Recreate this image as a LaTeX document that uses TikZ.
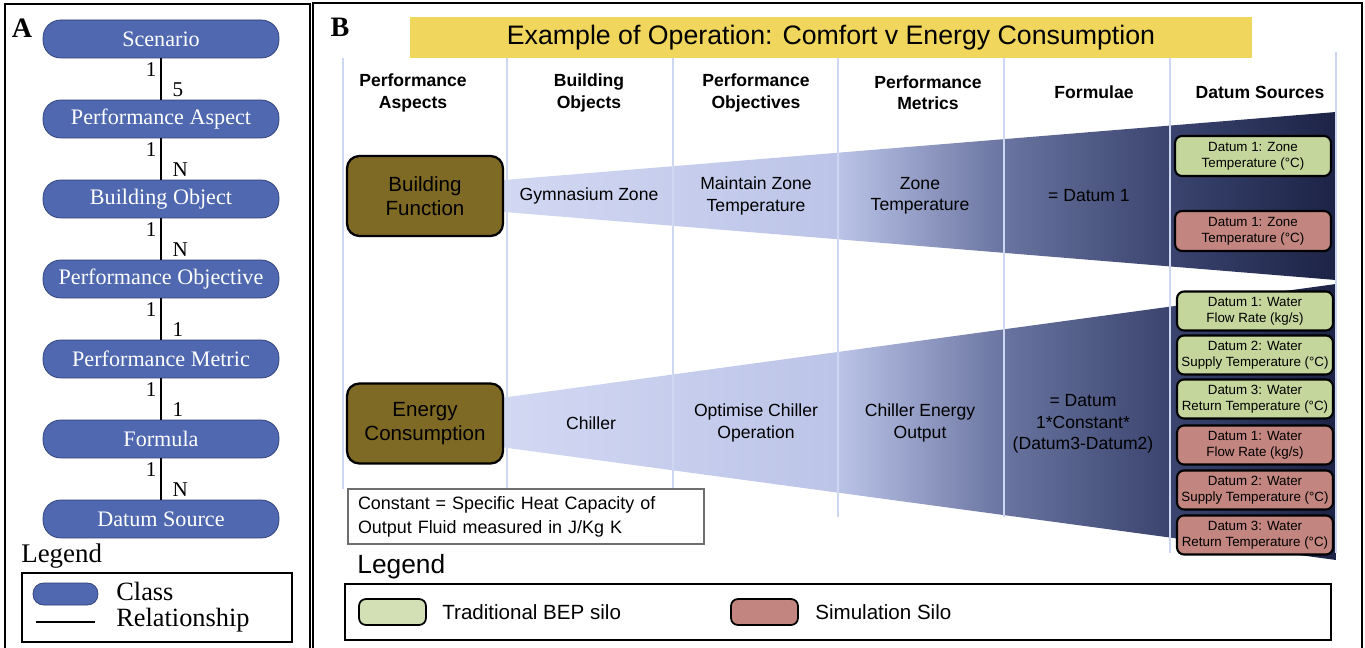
\documentclass[tikz,border=0pt]{standalone}
\usepackage{fontspec}
\setmainfont{Liberation Serif}
\setsansfont{Liberation Sans}
\usetikzlibrary{positioning, calc, backgrounds}
\definecolor{class_blue}{RGB}{80, 104, 176}
\definecolor{class_edge}{RGB}{45, 60, 115}
\definecolor{banner_yellow}{RGB}{240, 214, 92}
\definecolor{olive_brown}{RGB}{126, 105, 37}
\definecolor{bep_green}{RGB}{196, 214, 156}
\definecolor{sim_red}{RGB}{194, 133, 128}
\definecolor{grid_blue}{RGB}{205, 215, 242}
\definecolor{note_gray}{RGB}{110, 110, 110}
\definecolor{fanlight}{RGB}{210, 216, 242}
\definecolor{fanmid}{RGB}{188, 196, 232}
\definecolor{fandeep}{RGB}{105, 116, 160}
\definecolor{fannavy}{RGB}{58, 68, 110}
\definecolor{fandark}{RGB}{28, 35, 70}
\pgfdeclarehorizontalshading{fan}{100bp}{color(0bp)=(fanlight); color(25bp)=(fanlight); color(45bp)=(fanmid); color(55bp)=(fandeep); color(65bp)=(fannavy); color(75bp)=(fandark); color(100bp)=(fandark)}
\def \degC {(°C)}

\begin{document}
\begin{tikzpicture}[
    x=0.02cm, y=-0.02cm,
    % Node styles
    classnode/.style={
        rectangle,
        rounded corners=10pt,
        draw=class_edge,
        fill=class_blue,
        text=white,
        minimum width=4.72cm,
        minimum height=0.76cm,
        inner sep=0pt,
        font=\fontsize{12.6}{14}\selectfont
    },
    relation/.style={
        line width=1.1pt,
        black
    },
    cardinality/.style={
        inner sep=2pt,
        font=\fontsize{12}{14}\selectfont
    },
    aspectbox/.style={
        rectangle,
        rounded corners=7pt,
        draw=black,
        line width=1.3pt,
        fill=olive_brown,
        minimum width=3.12cm,
        minimum height=1.6cm,
        align=center,
        font=\sffamily\fontsize{11.7}{13.6}\selectfont
    },
    heading/.style={
        align=center,
        font=\sffamily\bfseries\fontsize{10}{12}\selectfont
    },
    entry/.style={
        align=center,
        font=\sffamily\fontsize{10}{12.2}\selectfont
    },
    datum/.style={
        rectangle,
        rounded corners=4pt,
        draw=black,
        line width=1.2pt,
        fill=#1,
        minimum width=3.12cm,
        minimum height=0.78cm,
        inner sep=0pt,
        align=center,
        font=\sffamily\fontsize{7.6}{9}\selectfont
    },
    swatch/.style={
        rectangle,
        rounded corners=4pt,
        draw=black,
        line width=1pt,
        fill=#1,
        minimum width=1.34cm,
        minimum height=0.52cm
    },
    gridline/.style={
        grid_blue,
        line width=0.6pt
    },
    panel/.style={
        line width=1.1pt,
        black
    }
]
\useasboundingbox (0,0) rectangle (1365,648);

% Panel frames
\draw[panel] (5,4) rectangle (310,670);
\draw[panel] (313,3) rectangle (1362,670);

% Panel A: class chain
\node[font=\fontsize{16}{18}\selectfont\bfseries] (tagA) at (22,28) {A};
\node[classnode] (scenario) at (161,39) {Scenario};
\node[classnode] (perfaspect) at (161,119) {Performance Aspect};
\node[classnode] (bldobject) at (161,199) {Building Object};
\node[classnode] (perfobjective) at (161,279) {Performance Objective};
\node[classnode] (perfmetric) at (161,359) {Performance Metric};
\node[classnode] (formula) at (161,439) {Formula};
\node[classnode] (datumsource) at (161,519) {Datum Source};

\draw[relation] (scenario) -- node[cardinality, pos=0.28, left] {1} node[cardinality, pos=0.76, right=4pt] {5} (perfaspect);
\draw[relation] (perfaspect) -- node[cardinality, pos=0.28, left] {1} node[cardinality, pos=0.76, right=4pt] {N} (bldobject);
\draw[relation] (bldobject) -- node[cardinality, pos=0.28, left] {1} node[cardinality, pos=0.76, right=4pt] {N} (perfobjective);
\draw[relation] (perfobjective) -- node[cardinality, pos=0.28, left] {1} node[cardinality, pos=0.76, right=4pt] {1} (perfmetric);
\draw[relation] (perfmetric) -- node[cardinality, pos=0.28, left] {1} node[cardinality, pos=0.76, right=4pt] {1} (formula);
\draw[relation] (formula) -- node[cardinality, pos=0.28, left] {1} node[cardinality, pos=0.76, right=4pt] {N} (datumsource);

% Panel A: legend
\node[anchor=west, inner sep=0pt, font=\fontsize{15.3}{17}\selectfont] (legendA) at (21,556) {Legend};
\draw[line width=1.5pt] (22,573) rectangle (292,642);
\node[classnode, minimum width=1.3cm, minimum height=0.44cm, rounded corners=6pt] (classkey) at (65.5,594) {};
\node[anchor=west, inner sep=0pt, font=\fontsize{15}{17}\selectfont] (classtxt) at (116,591) {Class};
\coordinate (relstart) at (36,622);
\coordinate (relend) at (95,622);
\draw[relation] (relstart) -- (relend);
\node[anchor=west, inner sep=0pt, font=\fontsize{15}{17}\selectfont] (reltxt) at (116,620) {Relationship};

% Panel B: banner and headings
\node[font=\fontsize{16}{18}\selectfont\bfseries] (tagB) at (340,27) {B};
\node[fill=banner_yellow, minimum width=16.84cm, minimum height=0.82cm, font=\sffamily\fontsize{15.2}{17}\selectfont] (banner) at (831,37.5) {Example of Operation: Comfort v Energy Consumption};

\node[heading] (hAspects) at (413,93) {Performance\\Aspects};
\node[heading] (hObjects) at (589,93) {Building\\Objects};
\node[heading] (hObjectives) at (756,93) {Performance\\Objectives};
\node[heading] (hMetrics) at (928,93) {Performance\\Metrics};
\node[heading] (hFormulae) at (1094,92) {Formulae};
\node[heading] (hSources) at (1260,92) {Datum Sources};

% Performance aspects
\node[aspectbox] (function) at (425,196) {Building\\Function};
\node[aspectbox] (energy) at (425,423.5) {Energy\\Consumption};

% Fans and column lines
\coordinate (fanA top) at (1336,112);
\coordinate (fanA bot) at (1336,280);
\coordinate (fanB top) at (1336,284);
\coordinate (fanB bot) at (1336,560);
\begin{scope}[on background layer]
\shade[shading=fan] ($(function.east)+(0,-16)$) -- (fanA top) -- (fanA bot) -- ($(function.east)+(0,16)$) -- cycle;
\shade[shading=fan] ($(energy.east)+(0,-26)$) -- (fanB top) -- (fanB bot) -- ($(energy.east)+(0,24)$) -- cycle;
\draw[gridline] (343,58) -- (343,489);
\draw[gridline] (507,58) -- (507,489);
\draw[gridline] (673,58) -- (673,489);
\draw[gridline] (838,58) -- (838,517);
\draw[gridline] (1004,58) -- (1004,517);
\draw[gridline] (1170,58) -- (1170,553);
\draw[gridline] (1336,52) -- (1336,553);
\end{scope}

% Row entries
\node[entry] (gymzone) at (589,196) {Gymnasium Zone};
\node[entry] (maintain) at (756,196) {Maintain Zone\\Temperature};
\node[entry] (zonetemp) at (920,196) {Zone\\Temperature};
\node[entry] (datumone) at (1089,196) {= Datum 1};
\node[entry] (chiller) at (591,423) {Chiller};
\node[entry] (optimise) at (756,423) {Optimise Chiller\\Operation};
\node[entry] (chillerout) at (920,423) {Chiller Energy\\Output};
\node[entry] (heatflow) at (1083,424) {= Datum\\1*Constant*\\(Datum3-Datum2)};

% Datum sources
\node[datum=bep_green, minimum height=0.8cm] (zonebep) at (1253,156) {Datum 1: Zone\\Temperature \degC};
\node[datum=sim_red, minimum height=0.8cm] (zonesim) at (1253,231) {Datum 1: Zone\\Temperature \degC};
\node[datum=bep_green] (flowbep) at (1255,311) {Datum 1: Water\\Flow Rate (kg/s)};
\node[datum=bep_green] (supplybep) at (1255,355) {Datum 2: Water\\Supply Temperature \degC};
\node[datum=bep_green] (returnbep) at (1255,399) {Datum 3: Water\\Return Temperature \degC};
\node[datum=sim_red] (flowsim) at (1255,445) {Datum 1: Water\\Flow Rate (kg/s)};
\node[datum=sim_red] (supplysim) at (1255,490) {Datum 2: Water\\Supply Temperature \degC};
\node[datum=sim_red] (returnsim) at (1255,535) {Datum 3: Water\\Return Temperature \degC};

% Constant note
\node[draw=note_gray, fill=white, line width=0.8pt, text width=6.72cm, inner xsep=0.2cm, minimum height=1.1cm, align=left, font=\sffamily\fontsize{10.2}{13.6}\selectfont] (constant) at (526,516.5) {Constant = Specific Heat Capacity of\\Output Fluid measured in J/Kg K};

% Panel B: legend
\node[anchor=west, inner sep=0pt, font=\sffamily\fontsize{15}{17}\selectfont] (legendB) at (357,567) {Legend};
\draw[line width=1.5pt] (345,584) rectangle (1331,640);
\node[swatch=bep_green!75!white] (bepkey) at (392.5,612) {};
\node[anchor=west, inner sep=0pt, font=\sffamily\fontsize{11.7}{14}\selectfont] (beptxt) at (442,612) {Traditional BEP silo};
\node[swatch=sim_red] (simkey) at (764.5,612) {};
\node[anchor=west, inner sep=0pt, font=\sffamily\fontsize{11.7}{14}\selectfont] (simtxt) at (815,612) {Simulation Silo};

\end{tikzpicture}
\end{document}
